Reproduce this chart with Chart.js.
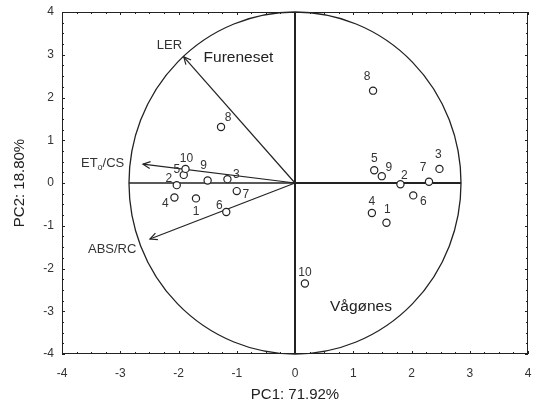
<!DOCTYPE html>
<html>
<head>
<meta charset="utf-8">
<script src="https://cdn.jsdelivr.net/npm/chart.js@4.4.1/dist/chart.umd.min.js"></script>
<style>
  html, body { margin: 0; padding: 0; background: #fff; }
  #wrap { width: 538px; height: 406px; }
</style>
</head>
<body>
<div id="wrap"><canvas id="pca"></canvas></div>
<script>
// PCA scores, samples 1..10 at each site
const sampleIds = ['1', '2', '3', '4', '5', '6', '7', '8', '9', '10'];
const furenesetPC1 = [-1.70, -2.03, -1.16, -2.07, -1.91, -1.18, -1.00, -1.27, -1.50, -1.88];
const furenesetPC2 = [-0.36, -0.05, 0.09, -0.34, 0.19, -0.68, -0.19, 1.31, 0.06, 0.33];
const vagonesPC1 = [1.57, 1.81, 2.48, 1.32, 1.36, 2.03, 2.30, 1.34, 1.49, 0.17];
const vagonesPC2 = [-0.93, -0.03, 0.33, -0.70, 0.30, -0.29, 0.03, 2.16, 0.16, -2.35];

// variable loadings (arrow tips)
const loadingNames = ['LER', 'ETo/CS', 'ABS/RC'];
const loadingPC1 = [-1.91, -2.61, -2.49];
const loadingPC2 = [2.95, 0.44, -1.31];

// correlation circle radii in score units
const circleRadiusPC1 = 2.85;
const circleRadiusPC2 = 4;

const axisMin = -4;
const axisMax = 4;
const axisTitleX = 'PC1: 71.92%';
const axisTitleY = 'PC2: 18.80%';

// label offsets (px) for each sample number
const furenesetLabelOffsets = [[0, 13], [-8, -6], [9, -4], [-9, 6], [-7, -5], [-7, -6], [9, 4], [7, -9], [-4, -15], [1, -10]];
const vagonesLabelOffsets = [[1, -13], [4, -9], [-1, -14], [0, -11], [0, -11], [10, 6], [-6, -14], [-6, -14], [7, -8], [0, -11]];

const FONT = "'Liberation Sans', Arial, sans-serif";
const INK = '#222';

function toPoints(xs, ys) {
    return xs.map((x, i) => ({ x: x, y: ys[i] }));
}

function arrowHead(ctx, x0, y0, x1, y1, len) {
    const a = Math.atan2(y1 - y0, x1 - x0);
    ctx.beginPath();
    ctx.moveTo(x1 + len * Math.cos(a + Math.PI - 0.45), y1 + len * Math.sin(a + Math.PI - 0.45));
    ctx.lineTo(x1, y1);
    ctx.lineTo(x1 + len * Math.cos(a + Math.PI + 0.45), y1 + len * Math.sin(a + Math.PI + 0.45));
    ctx.stroke();
}

// frame, inner ticks, circle, axes lines and loading arrows
const biplotPlugin = {
    id: 'biplot',
    beforeDatasetsDraw(chart) {
        const { ctx, chartArea: ca, scales: { x, y } } = chart;
        const x0 = x.getPixelForValue(0);
        const y0 = y.getPixelForValue(0);
        ctx.save();
        ctx.strokeStyle = INK;

        // frame
        ctx.lineWidth = 1;
        ctx.strokeRect(ca.left + 0.5, ca.top + 0.5, ca.right - ca.left - 1, ca.bottom - ca.top - 1);

        // inside ticks every 0.25
        for (let v = axisMin; v <= axisMax + 1e-9; v += 0.25) {
            const major = Math.abs(v - Math.round(v)) < 1e-9;
            const len = major ? 3 : 2;
            const px = Math.round(x.getPixelForValue(v)) + 0.5;
            const py = Math.round(y.getPixelForValue(v)) + 0.5;
            ctx.beginPath();
            ctx.moveTo(px, ca.bottom); ctx.lineTo(px, ca.bottom - len);
            ctx.moveTo(px, ca.top); ctx.lineTo(px, ca.top + len);
            ctx.moveTo(ca.left, py); ctx.lineTo(ca.left + len, py);
            ctx.moveTo(ca.right, py); ctx.lineTo(ca.right - len, py);
            ctx.stroke();
        }

        // circle
        const rx = x.getPixelForValue(circleRadiusPC1) - x0;
        const ry = y0 - y.getPixelForValue(circleRadiusPC2);
        ctx.lineWidth = 1.3;
        ctx.beginPath();
        ctx.ellipse(x0, y0, rx, ry, 0, 0, Math.PI * 2);
        ctx.stroke();

        // axis lines through origin
        ctx.lineWidth = 2;
        ctx.beginPath();
        ctx.moveTo(x0, y.getPixelForValue(axisMin));
        ctx.lineTo(x0, y.getPixelForValue(axisMax));
        ctx.moveTo(x0, y0);
        ctx.lineTo(x0 + rx, y0);
        ctx.stroke();
        ctx.lineWidth = 1.3;
        ctx.beginPath();
        ctx.moveTo(x0 - rx, y0);
        ctx.lineTo(x0, y0);
        ctx.stroke();

        // loading arrows
        ctx.lineWidth = 1.2;
        loadingNames.forEach((n, i) => {
            const tx = x.getPixelForValue(loadingPC1[i]);
            const ty = y.getPixelForValue(loadingPC2[i]);
            ctx.beginPath();
            ctx.moveTo(x0, y0);
            ctx.lineTo(tx, ty);
            ctx.stroke();
            arrowHead(ctx, x0, y0, tx, ty, 8);
        });
        ctx.restore();
    },
    afterDatasetsDraw(chart) {
        const { ctx, scales: { x, y } } = chart;
        ctx.save();
        ctx.fillStyle = '#333';
        ctx.textAlign = 'center';
        ctx.textBaseline = 'middle';
        ctx.font = '12px ' + FONT;
        const offsets = [furenesetLabelOffsets, vagonesLabelOffsets];
        chart.data.datasets.forEach((ds, di) => {
            chart.getDatasetMeta(di).data.forEach((pt, i) => {
                const o = offsets[di][i];
                ctx.fillText(sampleIds[i], pt.x + o[0], pt.y + o[1]);
            });
        });

        // loading names
        ctx.font = '13px ' + FONT;
        ctx.textAlign = 'left';
        ctx.fillText('LER', x.getPixelForValue(loadingPC1[0]) - 27, y.getPixelForValue(loadingPC2[0]) - 11);
        // ETo/CS with subscript o
        let lx = x.getPixelForValue(loadingPC1[1]) - 62;
        const ly = y.getPixelForValue(loadingPC2[1]) - 1;
        ctx.fillText('ET', lx, ly);
        lx += ctx.measureText('ET').width;
        ctx.font = '9px ' + FONT;
        ctx.fillText('o', lx, ly + 4);
        lx += ctx.measureText('o').width;
        ctx.font = '13px ' + FONT;
        ctx.fillText('/CS', lx, ly);
        ctx.fillText('ABS/RC', x.getPixelForValue(loadingPC1[2]) - 62, y.getPixelForValue(loadingPC2[2]) + 10);

        // site names
        ctx.font = '15.5px ' + FONT;
        ctx.fillStyle = '#222';
        ctx.fillText('Fureneset', x.getPixelForValue(-1.57), y.getPixelForValue(2.94));
        ctx.fillText('Vågønes', x.getPixelForValue(0.6), y.getPixelForValue(-2.9));
        ctx.restore();
    }
};

const pointStyle = {
    pointRadius: 3.6,
    pointHoverRadius: 3.6,
    pointBackgroundColor: '#fff',
    pointBorderColor: INK,
    pointBorderWidth: 1.2,
    showLine: false
};

// invisible tick marks only push the tick labels away from the frame
const hiddenGrid = (len) => ({ display: true, drawOnChartArea: false, drawTicks: true, tickLength: len, color: 'rgba(0,0,0,0)' });

new Chart(document.getElementById('pca'), {
    type: 'scatter',
    data: {
        datasets: [
            Object.assign({ label: 'Fureneset', data: toPoints(furenesetPC1, furenesetPC2) }, pointStyle),
            Object.assign({ label: 'Vågønes', data: toPoints(vagonesPC1, vagonesPC2) }, pointStyle)
        ]
    },
    options: {
        responsive: true,
        maintainAspectRatio: false,
        animation: false,
        layout: { padding: { top: 12, right: 10, left: 0, bottom: 0 } },
        plugins: { legend: { display: false }, tooltip: { enabled: false } },
        scales: {
            x: {
                type: 'linear', min: axisMin, max: axisMax,
                grid: hiddenGrid(9),
                border: { display: false },
                ticks: { stepSize: 1, padding: 3, maxRotation: 0, color: '#333', font: { family: FONT, size: 12 } },
                title: { display: true, text: axisTitleX, color: '#222', padding: { top: 4, bottom: 2 }, font: { family: FONT, size: 15 } },
                afterFit(scale) { scale.height = 52; }
            },
            y: {
                type: 'linear', min: axisMin, max: axisMax,
                grid: hiddenGrid(6),
                border: { display: false },
                ticks: { stepSize: 1, padding: 2, color: '#333', font: { family: FONT, size: 12 } },
                title: { display: true, text: axisTitleY, color: '#222', padding: { top: 11, bottom: 4 }, font: { family: FONT, size: 15 } },
                afterFit(scale) { scale.width = 62; }
            }
        }
    },
    plugins: [biplotPlugin]
});
</script>
</body>
</html>
